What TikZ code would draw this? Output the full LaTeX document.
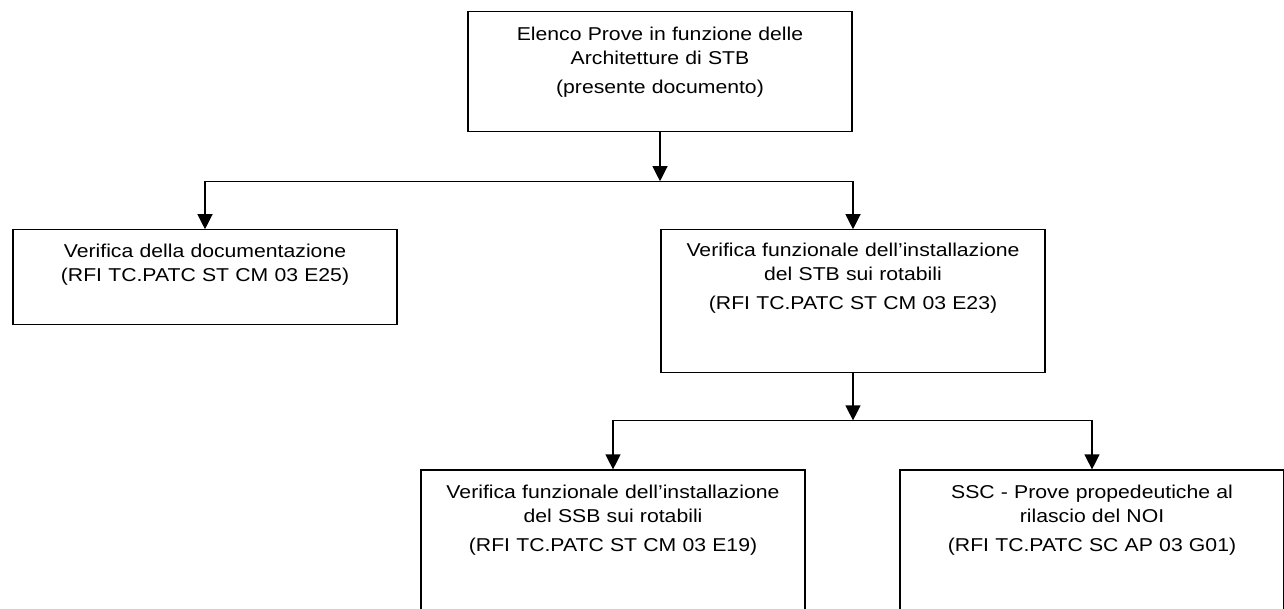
\documentclass[tikz,border=0pt]{standalone}
\usepackage{fontspec}
\setmainfont{Liberation Sans}[FakeStretch=1.14]
\usetikzlibrary{positioning,arrows.meta}

\begin{document}
\begin{tikzpicture}[x=1pt,y=1pt,
            box/.style={draw,line width=1.2pt,inner sep=0pt,text width=384pt,align=center,
                        font=\fontsize{18.6}{24}\selectfont},
            arr/.style={-{Triangle[length=15pt,width=15pt]},line width=1.2pt}]
            \clip (0,0) rectangle (1284,-608);
            \node[box,anchor=north,text height=29pt,text depth=91pt] (elenco) at (660,-11)
                {Elenco Prove in funzione delle\\Architetture di STB\\[5pt](presente documento)};
            \node[box,below=97pt of elenco,xshift=-455pt,text height=28pt,text depth=67pt] (doc)
                {Verifica della documentazione\\(RFI TC.PATC ST CM 03 E25)};
            \node[box,below=97pt of elenco,xshift=193pt,text height=27pt,text depth=116pt] (stb)
                {Verifica funzionale dell’installazione\\del STB sui rotabili\\[5pt](RFI TC.PATC ST CM 03 E23)};
            \node[box,below=96pt of stb,xshift=-240pt,text height=28pt,text depth=132pt] (ssb)
                {Verifica funzionale dell’installazione\\del SSB sui rotabili\\[5pt](RFI TC.PATC ST CM 03 E19)};
            \node[box,below=96pt of stb,xshift=239pt,text height=28pt,text depth=132pt] (ssc)
                {SSC - Prove propedeutiche al\\rilascio del NOI\\[5pt](RFI TC.PATC SC AP 03 G01)};
            \coordinate[below=49pt of elenco] (hub1);
            \coordinate[below=47pt of stb] (hub2);
            \draw[arr] (elenco) -- (hub1);
            \draw[arr] (hub1) -| (doc);
            \draw[arr] (hub1) -| (stb);
            \draw[arr] (stb) -- (hub2);
            \draw[arr] (hub2) -| (ssb);
            \draw[arr] (hub2) -| (ssc);
        \end{tikzpicture}
\end{document}
